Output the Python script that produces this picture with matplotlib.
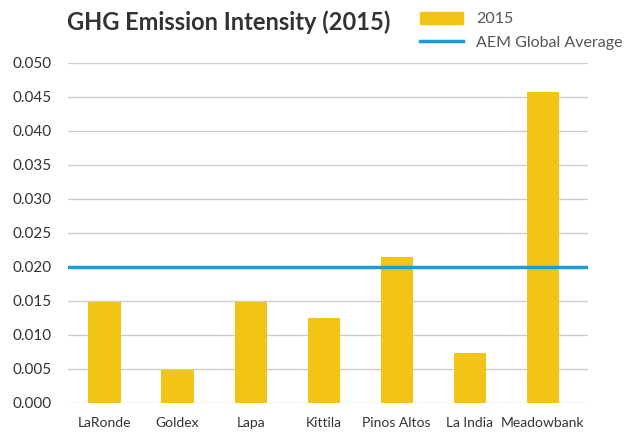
import matplotlib
matplotlib.use("Agg")
import matplotlib.pyplot as plt
from matplotlib.patches import Patch
from matplotlib.lines import Line2D

# data
mines = ["LaRonde", "Goldex", "Lapa", "Kittila", "Pinos Altos", "La India", "Meadowbank"]
intensity_2015 = [0.0149, 0.0049, 0.0149, 0.0125, 0.0215, 0.0074, 0.0458]
global_average = 0.020
yticks = [0.000, 0.005, 0.010, 0.015, 0.020, 0.025, 0.030, 0.035, 0.040, 0.045, 0.050]

bar_color = "#F2C515"
line_color = "#1E9AD6"
text_color = "#333333"

plt.rcParams["font.family"] = ["Lato", "DejaVu Sans"]

fig = plt.figure(figsize=(6.37, 4.32), dpi=100)
ax = fig.add_axes([68 / 637, 1 - 403 / 432, 520 / 637, 340 / 432])

x = list(range(len(mines)))
ax.bar(x, intensity_2015, width=0.44, color=bar_color, zorder=2)
ax.axhline(global_average, color=line_color, lw=2.5, zorder=3)

ax.set_xlim(-0.5, 6.62)
ax.set_ylim(0, 0.050)
ax.set_yticks(yticks)
ax.set_yticklabels([f"{v:.3f}" for v in yticks], fontsize=11, color=text_color)
ax.set_xticks(x)
ax.set_xticklabels(mines, fontsize=10, color=text_color)
ax.tick_params(axis="both", length=0)
ax.tick_params(axis="x", pad=10)
ax.tick_params(axis="y", pad=12)
ax.grid(axis="y", color="#cccccc", lw=1, zorder=0)
for s in ax.spines.values():
    s.set_visible(False)

fig.text(67 / 637, 1 - 22 / 432, "GHG Emission Intensity (2015)", fontsize=17,
         fontweight="bold", color=text_color, va="center")

handles = [Patch(color=bar_color, label="2015"),
           Line2D([], [], color=line_color, lw=2.5, label="AEM Global Average")]
fig.legend(handles=handles, loc="upper left", bbox_to_anchor=(420 / 637, 1 - 12 / 432),
           frameon=False, fontsize=11.5, labelcolor="#555555", borderpad=0,
           borderaxespad=0, handlelength=2.7, handleheight=0.75,
           labelspacing=0.55, handletextpad=0.8)

fig.savefig("out.png", dpi=100)
